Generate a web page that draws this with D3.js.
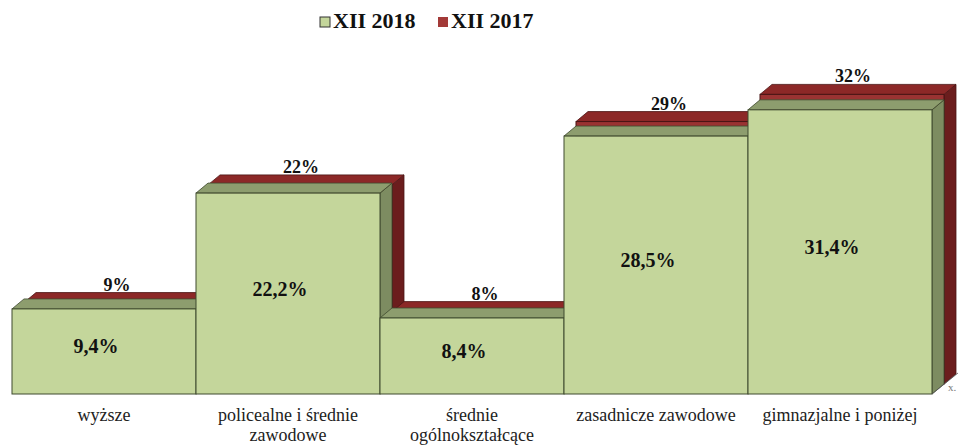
<!DOCTYPE html>
<meta charset="utf-8">
<style>
    body { margin: 0; background: #fff; }
    svg text { font-family: "Liberation Serif", "Times New Roman", "DejaVu Serif", serif; }
    .val { font-weight: bold; font-size: 20px; fill: #111; }
    .val2 { font-weight: bold; font-size: 18px; fill: #111; }
    .cat { font-size: 18px; fill: #222; }
    .leg { font-weight: bold; font-size: 22px; fill: #111; }
</style>
<body>
<script src="https://cdn.jsdelivr.net/npm/d3@7"></script>
<script>

    var categories = ["wyższe", "policealne i średnie|zawodowe", "średnie|ogólnokształcące", "zasadnicze zawodowe", "gimnazjalne i poniżej"];
    var values2018 = [9.4, 22.2, 8.4, 28.5, 31.4];
    var values2017 = [9, 22, 8, 29, 32];
    var seriesNames = ["XII 2018", "XII 2017"];

    var width = 961, height = 445,
        base = 394,
        dx = 12, dy = -10; // depth of one row of the 3D boxes

    var serif = "'Liberation Serif', 'Times New Roman', 'DejaVu Serif', serif";

    var svg = d3.select("body").append("svg")
        .attr("width", width)
        .attr("height", height)
        .attr("font-family", serif);

    var x = d3.scaleBand().domain(d3.range(categories.length)).range([12, 932]).padding(0);
    var y = d3.scaleLinear().domain([0, 35]).range([base, base - 35 * 9.05]);

    var green = {front: "#c4d69b", top: "#8d9d6e", side: "#7d8c61", stroke: "#3f4a2e"},
        red = {front: "#9a3332", top: "#8c2827", side: "#6b1d1d", stroke: "#4a1414"};

    function box(g, i, v, row, c) {
        var x0 = x(i) + row * dx, x1 = x0 + x.bandwidth(),
            yt = y(v) + row * dy, yb = base + row * dy;
        var pts = function(a) { return a.map(function(p) { return p.join(","); }).join(" "); };
        g.append("polygon")
            .attr("points", pts([[x1, yt], [x1 + dx, yt + dy], [x1 + dx, yb + dy], [x1, yb]]))
            .attr("fill", c.side).attr("stroke", c.stroke).attr("stroke-width", 0.8);
        g.append("polygon")
            .attr("points", pts([[x0, yt], [x1, yt], [x1 + dx, yt + dy], [x0 + dx, yt + dy]]))
            .attr("fill", c.top).attr("stroke", c.stroke).attr("stroke-width", 0.8);
        g.append("rect")
            .attr("x", x0).attr("y", yt)
            .attr("width", x.bandwidth()).attr("height", yb - yt)
            .attr("fill", c.front).attr("stroke", c.stroke).attr("stroke-width", 1);
    }

    var gBack = svg.append("g"), gFront = svg.append("g");
    values2017.forEach(function(v, i) { box(gBack, i, v, 1, red); });
    values2018.forEach(function(v, i) { box(gFront, i, v, 0, green); });

    // floor edge at the right
    svg.append("line")
        .attr("x1", x(4) + x.bandwidth()).attr("y1", base)
        .attr("x2", x(4) + x.bandwidth() + 2 * dx + 2).attr("y2", base + 2 * dy - 1)
        .attr("stroke", "#555").attr("stroke-width", 0.8);
    svg.append("text")
        .attr("x", 948).attr("y", 391)
        .attr("font-family", "'Liberation Sans', sans-serif")
        .attr("font-size", 11).attr("fill", "#777")
        .text("x.");

    // value labels 2018 (inside front face)
    svg.selectAll(".val").data(values2018).enter().append("text")
        .attr("class", "val")
        .attr("text-anchor", "middle")
        .attr("x", function(d, i) { return x(i) + x.bandwidth() / 2 - 8; })
        .attr("y", function(d) { return (y(d) + base) / 2 + 2; })
        .text(function(d) { return String(d).replace(".", ",") + "%"; });

    // value labels 2017 (above back boxes)
    svg.selectAll(".val2").data(values2017).enter().append("text")
        .attr("class", "val2")
        .attr("text-anchor", "middle")
        .attr("x", function(d, i) { return x(i) + x.bandwidth() / 2 + 13; })
        .attr("y", function(d) { return y(d) + 2 * dy - 2; })
        .text(function(d) { return d + "%"; });

    // category labels
    var cat = svg.selectAll(".cat").data(categories).enter().append("text")
        .attr("class", "cat")
        .attr("text-anchor", "middle")
        .attr("x", function(d, i) { return x(i) + x.bandwidth() / 2; })
        .attr("y", 421);
    cat.each(function(d) {
        var t = d3.select(this), x0 = t.attr("x");
        d.split("|").forEach(function(line, j) {
            t.append("tspan").attr("x", x0).attr("dy", j ? 20 : 0).text(line);
        });
    });

    // legend
    var leg = svg.append("g");
    var legX = [320, 438];
    [green, red].forEach(function(c, i) {
        leg.append("rect")
            .attr("x", legX[i]).attr("y", 17).attr("width", 10).attr("height", 10)
            .attr("fill", i ? "#a33a38" : c.front).attr("stroke", i ? "none" : "#333").attr("stroke-width", 1);
        leg.append("text").attr("class", "leg")
            .attr("x", legX[i] + 13).attr("y", 28)
            .text(seriesNames[i]);
    });
</script>
</body>
